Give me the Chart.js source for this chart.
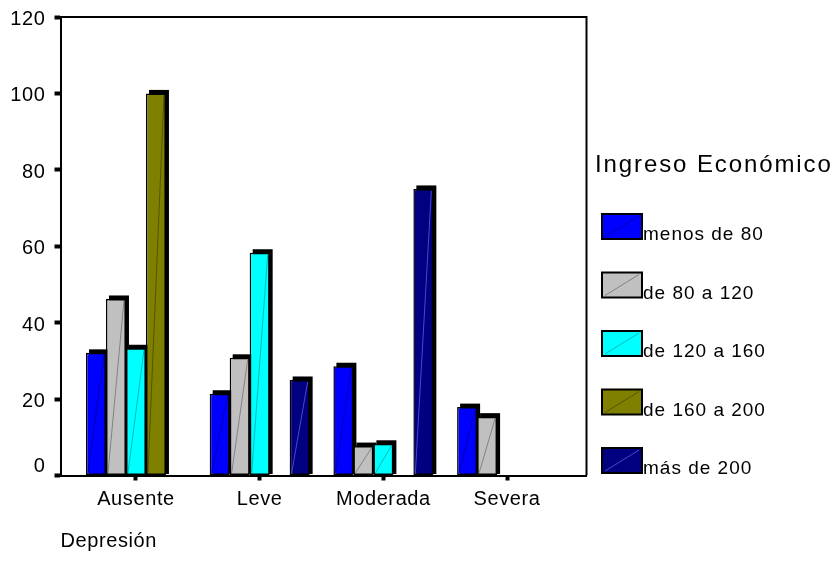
<!DOCTYPE html>
<html>
<head>
<meta charset="utf-8">
<script src="https://cdn.jsdelivr.net/npm/chart.js@4/dist/chart.umd.min.js"></script>
<style>
  html, body { margin: 0; padding: 0; background: #ffffff; }
  #wrap { width: 838px; height: 576px; }
</style>
</head>
<body>
<div id="wrap"><canvas id="c" width="838" height="576"></canvas></div>
<script>
// Depression level by income group (percent of each income group)
const categories = ['Ausente', 'Leve', 'Moderada', 'Severa'];
const seriesNames = ['menos de 80', 'de 80 a 120', 'de 120 a 160', 'de 160 a 200', 'más de 200'];
const menosDe80 = [32.1, 21.4, 28.6, 17.9];
const de80a120 = [46.2, 30.8, 7.7, 15.4];
const de120a160 = [33.3, 58.3, 8.3, 0];
const de160a200 = [100, 0, 0, 0];
const masDe200 = [0, 25, 75, 0];
const yTicks = [0, 20, 40, 60, 80, 100, 120];

const seriesValues = [menosDe80, de80a120, de120a160, de160a200, masDe200];
const fillColors = ['#0000ff', '#c0c0c0', '#00ffff', '#808000', '#000080'];
const streakColors = ['rgba(0,0,110,0.55)', 'rgba(80,80,80,0.55)', 'rgba(0,130,130,0.55)',
                      'rgba(50,50,0,0.55)', 'rgba(120,120,255,0.6)'];
const FONT = '"Liberation Sans", Arial, sans-serif';

const datasets = seriesValues.map((vals, s) => ({
  label: seriesNames[s],
  data: vals.map((v, i) => ({ x: i, y: v })),
  backgroundColor: fillColors[s],
  borderColor: '#000000',
  borderWidth: c => (c.raw && c.raw.y > 0 ? 1.5 : 0),
  borderSkipped: false
}));

// Letter spacing for library-drawn text
const spacing = {
  id: 'spacing',
  beforeLayout(chart) { chart.ctx.letterSpacing = '0.6px'; },
  beforeDraw(chart) { chart.ctx.letterSpacing = '0.6px'; }
};

// Dark back face of each bar, offset up and to the right
const depth = {
  id: 'depth',
  beforeDatasetsDraw(chart) {
    const ctx = chart.ctx;
    ctx.save();
    ctx.fillStyle = '#000000';
    chart.data.datasets.forEach((ds, di) => {
      const meta = chart.getDatasetMeta(di);
      meta.data.forEach((el, i) => {
        if (!(ds.data[i].y > 0)) return;
        const p = el.getProps(['x', 'y', 'base', 'width'], true);
        const l = p.x - p.width / 2 + 3;
        const t = p.y - 3.5;
        ctx.fillRect(l, t, p.width, p.base - 1 - t);
      });
    });
    ctx.restore();
  },
  afterDatasetsDraw(chart) {
    const ctx = chart.ctx;
    ctx.save();
    ctx.lineWidth = 1;
    chart.data.datasets.forEach((ds, di) => {
      const meta = chart.getDatasetMeta(di);
      meta.data.forEach((el, i) => {
        if (!(ds.data[i].y > 0)) return;
        const p = el.getProps(['x', 'y', 'base', 'width'], true);
        ctx.strokeStyle = streakColors[di];
        ctx.beginPath();
        ctx.moveTo(p.x - p.width / 2 + 2, p.base - 2);
        ctx.lineTo(p.x + p.width / 2 - 2, p.y + 2);
        ctx.stroke();
      });
    });
    ctx.restore();
  }
};

// Closing top and right edges of the plot frame
const frame = {
  id: 'frame',
  afterDraw(chart) {
    const { left, right, top, bottom } = chart.chartArea;
    const ctx = chart.ctx;
    ctx.save();
    ctx.strokeStyle = '#000000';
    ctx.lineWidth = 2;
    ctx.beginPath();
    ctx.moveTo(left, top);
    ctx.lineTo(right, top);
    ctx.lineTo(right, bottom);
    ctx.stroke();
    ctx.restore();
  }
};

// Legend to the right of the plot
const sideLegend = {
  id: 'sideLegend',
  afterDraw(chart) {
    const ctx = chart.ctx;
    const x0 = chart.chartArea.right;
    ctx.save();
    ctx.fillStyle = '#000000';
    ctx.textAlign = 'left';
    ctx.textBaseline = 'alphabetic';
    ctx.letterSpacing = '1.9px';
    ctx.font = '24px ' + FONT;
    ctx.fillText('Ingreso Económico', x0 + 8.5, 172);
    ctx.letterSpacing = '1px';
    ctx.font = '19px ' + FONT;
    chart.data.datasets.forEach((ds, i) => {
      const bx = x0 + 15.5;
      const by = 214 + i * 58.5;
      ctx.fillStyle = ds.backgroundColor;
      ctx.fillRect(bx, by, 40, 25);
      ctx.strokeStyle = streakColors[i];
      ctx.lineWidth = 1;
      ctx.beginPath();
      ctx.moveTo(bx + 3, by + 23);
      ctx.lineTo(bx + 37, by + 2);
      ctx.stroke();
      ctx.strokeStyle = '#000000';
      ctx.lineWidth = 2;
      ctx.strokeRect(bx, by, 40, 25);
      ctx.fillStyle = '#000000';
      ctx.fillText(ds.label, bx + 41, by + 26);
    });
    ctx.restore();
  }
};

new Chart(document.getElementById('c'), {
  type: 'bar',
  data: { datasets },
  plugins: [spacing, depth, frame, sideLegend],
  options: {
    responsive: false,
    animation: false,
    events: [],
    layout: { padding: { top: 17, right: 251.5, left: 0, bottom: 0 } },
    datasets: { bar: { categoryPercentage: 0.808, barPercentage: 1 } },
    plugins: { legend: { display: false }, tooltip: { enabled: false } },
    scales: {
      x: {
        type: 'linear',
        min: -0.61,
        max: 3.642,
        offset: false,
        afterBuildTicks: s => { s.ticks = categories.map((_, i) => ({ value: i })); },
        afterFit: s => { s.height = 100.5; s.paddingLeft = 0; s.paddingRight = 0; },
        grid: { offset: false, drawOnChartArea: false, drawTicks: true, tickLength: 5, tickWidth: 4, tickColor: '#000000' },
        border: { display: true, color: '#000000', width: 2 },
        ticks: {
          callback: v => categories[v] ?? '',
          color: '#000000',
          font: { family: FONT, size: 20 },
          padding: 7,
          maxRotation: 0,
          autoSkip: false
        },
        title: {
          display: true,
          text: 'Depresión',
          align: 'start',
          color: '#000000',
          font: { family: FONT, size: 20 },
          padding: { top: 0, bottom: 23 }
        }
      },
      y: {
        min: 0,
        max: 120,
        afterBuildTicks: s => { s.ticks = yTicks.map(v => ({ value: v })); },
        afterFit: s => { s.width = 60.5; s.paddingTop = 0; s.paddingBottom = 0; },
        grid: { drawOnChartArea: false, drawTicks: true, tickLength: 6, tickWidth: 4, tickColor: '#000000' },
        border: { display: true, color: '#000000', width: 2 },
        ticks: {
          // the zero label sits a little above the axis line
          callback: v => (v === 0 ? [String(v), ''] : String(v)),
          color: '#000000',
          font: { family: FONT, size: 20 },
          padding: 9,
          labelOffset: 2.5
        }
      }
    }
  }
});
</script>
</body>
</html>
